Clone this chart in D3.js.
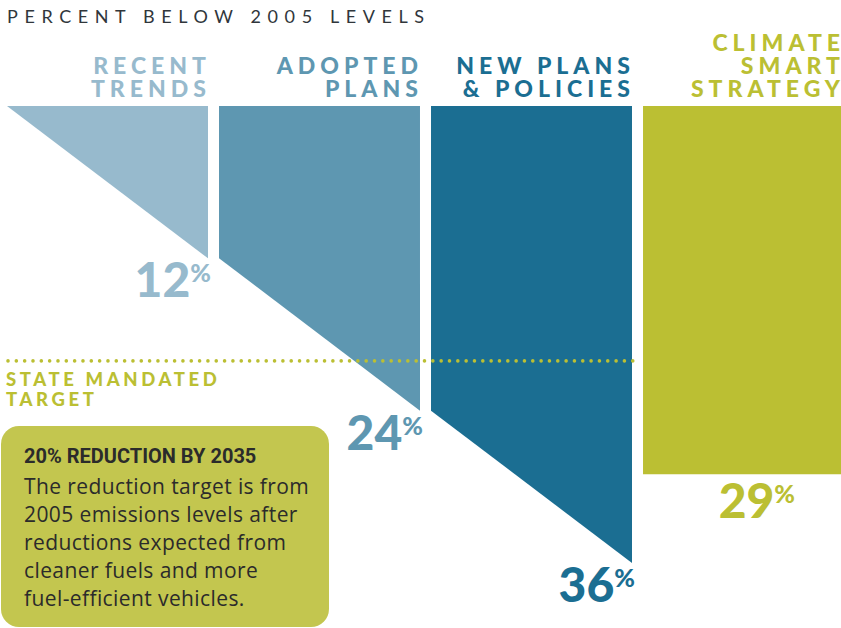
<!DOCTYPE html>
<html>
<head>
<meta charset="utf-8">
<script src="https://cdn.jsdelivr.net/npm/d3@7"></script>
<style>
  body { margin: 0; background: #fff; }
  svg { display: block; }
  text { font-family: Lato, "Open Sans", sans-serif; }
</style>
</head>
<body>
<svg id="chart" width="841" height="628"></svg>
<script>
// data - each column starts where the previous trend ended
var categories = [ ["RECENT", "TRENDS"], ["ADOPTED", "PLANS"],
                   ["NEW PLANS", "& POLICIES"], ["CLIMATE", "SMART", "STRATEGY"] ];
var startValues = [ 0, 12, 24, 29 ];
var endValues = [ 12, 24, 36, 29 ];
var colors = [ "#97bacd", "#5e97b1", "#1b6e92", "#bbbf33" ];

var targetValue = 20;
var targetLabel = [ "STATE MANDATED", "TARGET" ];
var noteTitle = "20% REDUCTION BY 2035";
var noteLines = [ "The reduction target is from", "2005 emissions levels after",
                  "reductions expected from", "cleaner fuels and more",
                  "fuel-efficient vehicles." ];
var title = "PERCENT BELOW 2005 LEVELS";

// scales
var scX = d3.scaleBand().domain( d3.range( categories.length ) )
            .range( [7, 844] ).paddingInner( 0.052 ).paddingOuter( 0 );
var scY = d3.scaleLinear().domain( [0, 36] ).range( [106, 563] );

var svg = d3.select( "#chart" );

// title
svg.append( "text" ).attr( "x", 7 ).attr( "y", 23 )
    .attr( "font-size", 18 ).attr( "letter-spacing", 6.6 ).attr( "fill", "#30363b" )
    .text( title );

// column shapes
svg.selectAll( "polygon.col" ).data( d3.range( categories.length ) ).enter()
    .append( "polygon" ).attr( "class", "col" )
    .attr( "fill", i=>colors[i] )
    .attr( "points", function( i ) {
        var x0 = scX( i ), x1 = x0 + scX.bandwidth();
        return [ [x0, scY(0)], [x1, scY(0)], [x1, scY(endValues[i])], [x0, scY(startValues[i])] ]
            .map( p=>p.join( "," ) ).join( " " );
    } );

// column headers, right aligned, last line sits on the same baseline
categories.forEach( function( lines, i ) {
    var xr = Math.min( scX( i ) + scX.bandwidth(), 842 ) - 2 + 5;
    var t = svg.append( "text" ).attr( "text-anchor", "end" )
        .attr( "font-size", 23 ).attr( "font-weight", 900 ).attr( "letter-spacing", 5 )
        .attr( "fill", colors[i] );
    lines.forEach( function( l, k ) {
        t.append( "tspan" ).attr( "x", xr ).attr( "y", 97 - ( lines.length - 1 - k ) * 23 ).text( l );
    } );
} );

// value labels
endValues.forEach( function( v, i ) {
    var x1 = scX( i ) + scX.bandwidth();
    var rect = startValues[i] === endValues[i];
    var t = svg.append( "text" ).attr( "text-anchor", "end" )
        .attr( "x", rect ? x1 - 49 : x1 + 3 )
        .attr( "y", scY( v ) + ( rect ? 44 : 39 ) )
        .attr( "fill", colors[i] ).attr( "font-weight", 900 );
    t.append( "tspan" ).attr( "font-size", 48 ).text( v );
    t.append( "tspan" ).attr( "font-size", 25 ).attr( "dy", -15 ).text( "%" );
} );

// state target dotted line
var lastX = scX( 2 ) + scX.bandwidth() + 4;
svg.append( "line" )
    .attr( "x1", 8 ).attr( "x2", lastX )
    .attr( "y1", scY( targetValue ) + 1 ).attr( "y2", scY( targetValue ) + 1 )
    .attr( "stroke", "#bbbf33" ).attr( "stroke-width", 3.6 )
    .attr( "stroke-linecap", "round" ).attr( "stroke-dasharray", "0 8.33" );

var tl = svg.append( "text" ).attr( "font-size", 18.5 ).attr( "font-weight", 900 )
    .attr( "letter-spacing", 3.6 ).attr( "fill", "#bbbf33" );
targetLabel.forEach( function( l, k ) {
    tl.append( "tspan" ).attr( "x", 6 ).attr( "y", scY( targetValue ) + 26 + k * 20 ).text( l );
} );

// note box
svg.append( "rect" ).attr( "x", 1 ).attr( "y", 426 ).attr( "width", 328 ).attr( "height", 201 )
    .attr( "rx", 18 ).attr( "fill", "#c3c64f" );
svg.append( "text" ).attr( "x", 24 ).attr( "y", 463 )
    .style( "font-family", "'Liberation Sans Narrow', Roboto, sans-serif" )
    .attr( "font-size", 20 ).attr( "font-weight", 700 ).attr( "fill", "#2b2b2b" )
    .text( noteTitle );
var nt = svg.append( "text" ).style( "font-family", "'Open Sans', Lato, sans-serif" )
    .attr( "font-size", 21 ).attr( "letter-spacing", 0.4 ).attr( "fill", "#2b2b2b" );
noteLines.forEach( function( l, k ) {
    nt.append( "tspan" ).attr( "x", 24 ).attr( "y", 494 + k * 28 ).text( l );
} );
</script>
</body>
</html>
